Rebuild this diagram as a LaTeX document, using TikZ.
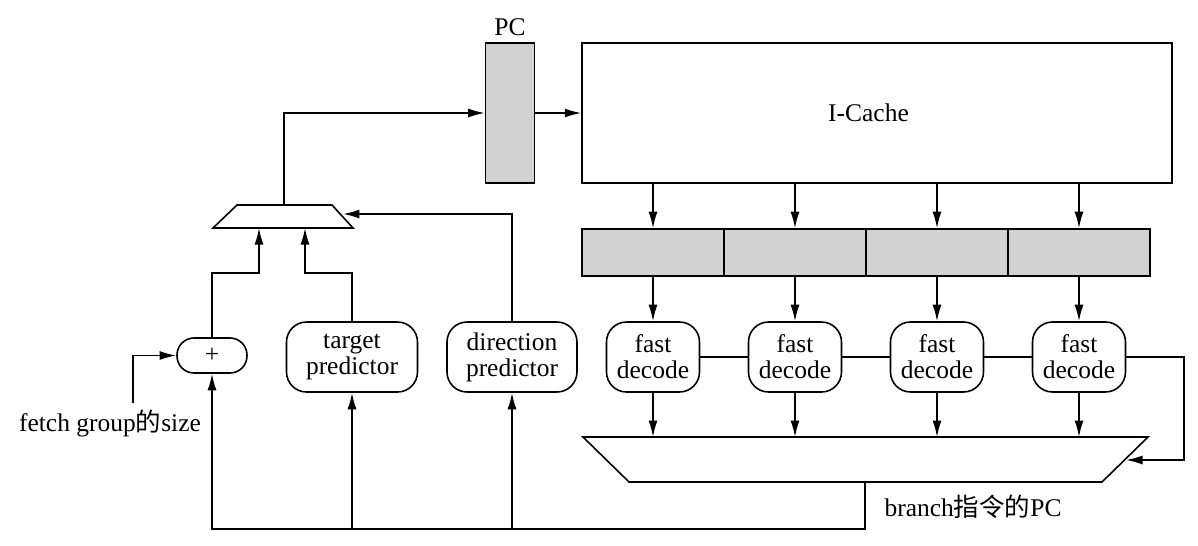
\documentclass[tikz,border=0pt]{standalone}
\usepackage{fontspec}
\setmainfont{Liberation Serif}
\newfontfamily\cjk{Noto Sans CJK SC}
\usetikzlibrary{arrows.meta,positioning,calc}
\definecolor{RegGray}{HTML}{D2D2D2}

\begin{document}
\begin{tikzpicture}[x=0.02cm, y=-0.02cm, line width=0.9pt,
		every node/.style={font=\fontsize{14.5}{14.8}\selectfont},
		arr/.style={-{Latex[length=3.3mm,width=1.8mm]}},
		blk/.style={draw,rounded corners=0.4cm,align=center,minimum height=1.4cm,inner sep=1pt},
		reg/.style={draw,fill=RegGray,minimum width=2.84cm,minimum height=0.94cm}]
		\useasboundingbox (0,0) rectangle (1198,545);
		% fetch side
		\node[draw,fill=RegGray,minimum width=0.98cm,minimum height=2.8cm,label={above:PC}] (pc) at (510,113) {};
		\node[draw,minimum width=11.8cm,minimum height=2.8cm,text depth=0pt] (icache) at (877,113) {\hspace*{-0.34cm}I-Cache};
		\draw (237,205) -- (332,205) -- (353,228) -- (213,228) -- cycle;
		\coordinate (mux1t) at (284,205);
		\coordinate (mux1b) at (283,228);
		\coordinate (mux1r) at (343,214);
		\node[draw,rounded corners=0.34cm,minimum width=1.4cm,minimum height=0.7cm] (add) at (212,355.5) {+};
		\node[blk,minimum width=2.62cm] (tp) at (352,357) {target\\predictor};
		\node[blk,minimum width=2.6cm] (dp) at (512,357) {direction\\predictor};
		\node (fgs) at (110,423) {fetch group{\cjk 的}size};
		% decode side
		\foreach \i in {0,...,3} {
			\node[reg] (c\i) at (653+142*\i,252.5) {};
			\node[blk,minimum width=1.86cm] (fd\i) at (653+142*\i,357) {fast\\decode};
		}
		\draw (583,437) -- (1148,437) -- (1102,482) -- (629,482) -- cycle;
		\coordinate (mux2t) at (865,437);
		\coordinate (mux2b) at (865,482);
		\coordinate (mux2r) at (1126,460);
		\coordinate (bus) at (865,529);
		\node[anchor=west] (brpc) at (878,507) {branch{\cjk 指令的}PC};
		% connections
		\draw[arr] (mux1t) |- (pc.west);
		\draw[arr] (pc) -- (icache);
		\foreach \i in {0,...,3} {
			\draw[arr] (icache.south -| c\i) -- (c\i.north);
			\draw[arr] (c\i) -- (fd\i);
			\draw[arr] (fd\i) -- (fd\i |- mux2t);
		}
		\draw (fd0) -- (fd1); \draw (fd1) -- (fd2); \draw (fd2) -- (fd3);
		\draw[arr] (fd3.east) -- ++(58,0) |- (mux2r);
		\draw[arr] (mux2b) -- (bus) -| (add.south);
		\draw[arr] (tp |- bus) -- (tp);
		\draw[arr] (dp |- bus) -- (dp);
		\draw[arr] (dp.north) |- (mux1r);
		\draw[arr] (tp.north) -- ++(0,-48) -| ([xshift=0.44cm]mux1b);
		\draw[arr] (add.north) -- ++(0,-64) -| ([xshift=-0.48cm]mux1b);
		\draw[arr] ([xshift=0.46cm]fgs.north) |- (add.west);
	\end{tikzpicture}
\end{document}
